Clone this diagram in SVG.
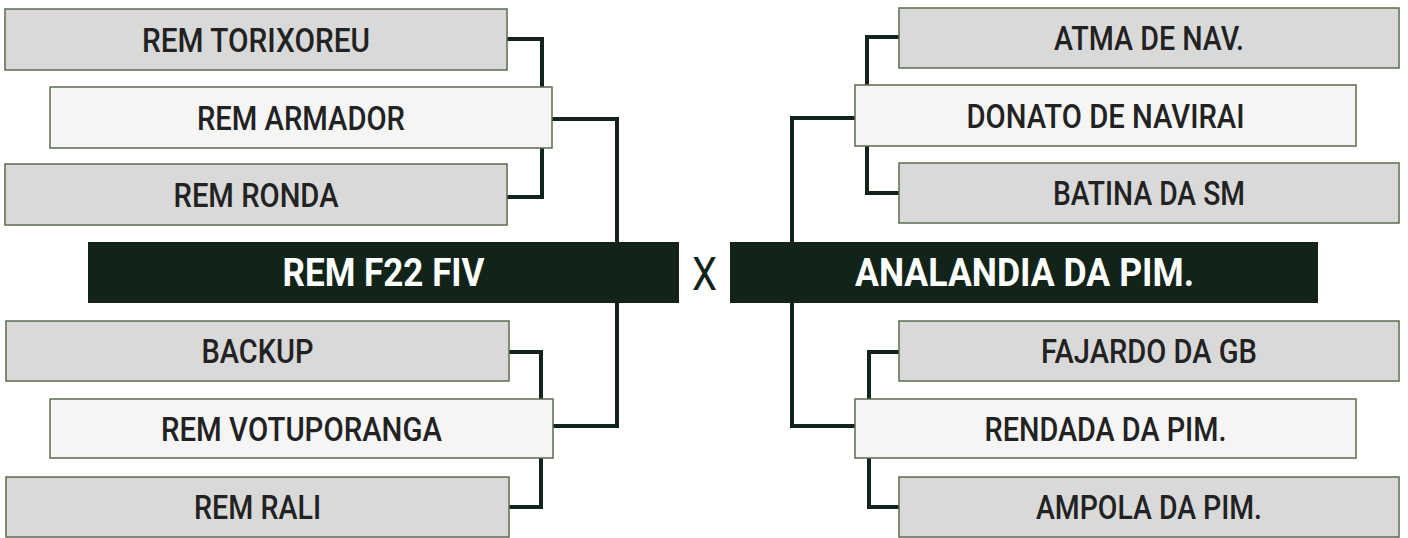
<svg xmlns="http://www.w3.org/2000/svg" width="1408" height="538" viewBox="0 0 1408 538">
<style>
.box{stroke:#5b6b4c;stroke-width:1.5}
.g{fill:#d9d9d9}
.l{fill:#f5f5f5}
.d{fill:#12241a}
.t{font-family:Roboto,"Liberation Sans",sans-serif;font-size:33px;font-weight:500;fill:#222222;text-anchor:middle}
.tb{font-family:Roboto,"Liberation Sans",sans-serif;font-size:38px;font-weight:700;fill:#ffffff;text-anchor:middle}
.x{font-family:Roboto,"Liberation Sans",sans-serif;font-size:47px;font-weight:400;fill:#12241a;text-anchor:middle}
.c{fill:none;stroke:#12241a;stroke-width:4;stroke-linejoin:miter}
</style>
<rect width="1408" height="538" fill="#ffffff"/>
<g id="connectors">
<path class="c" d="M507,39 H542 V197 H507"/>
<path class="c" d="M552,119 H617 V426 H553"/>
<path class="c" d="M509,352 H541 V507 H509"/>
<path class="c" d="M899,37 H867 V193 H899"/>
<path class="c" d="M855,118 H792 V426 H855"/>
<path class="c" d="M899,352 H869 V507 H899"/>
</g>
<g id="n-torixoreu"><rect class="box g" x="5" y="9" width="502" height="61"/><text class="t" x="256" y="51.5" textLength="228" lengthAdjust="spacingAndGlyphs">REM TORIXOREU</text></g>
<g id="n-armador"><rect class="box l" x="50" y="87" width="502" height="61"/><text class="t" x="301" y="129.5" textLength="208" lengthAdjust="spacingAndGlyphs">REM ARMADOR</text></g>
<g id="n-ronda"><rect class="box g" x="5" y="164" width="502" height="61"/><text class="t" x="256" y="206.5" textLength="165" lengthAdjust="spacingAndGlyphs">REM RONDA</text></g>
<g id="n-f22"><rect class="d" x="88" y="242" width="591" height="61"/><text class="tb" x="383.5" y="286" textLength="202" lengthAdjust="spacingAndGlyphs">REM F22 FIV</text></g>
<g id="n-x"><text class="x" x="704.5" y="289.5" textLength="25" lengthAdjust="spacingAndGlyphs">X</text></g>
<g id="n-analandia"><rect class="d" x="730" y="242" width="588" height="61"/><text class="tb" x="1024.5" y="286" textLength="339" lengthAdjust="spacingAndGlyphs">ANALANDIA DA PIM.</text></g>
<g id="n-backup"><rect class="box g" x="6" y="321" width="503" height="60"/><text class="t" x="257.5" y="363" textLength="112" lengthAdjust="spacingAndGlyphs">BACKUP</text></g>
<g id="n-votuporanga"><rect class="box l" x="50" y="399" width="503" height="59"/><text class="t" x="301.5" y="440.5" textLength="281" lengthAdjust="spacingAndGlyphs">REM VOTUPORANGA</text></g>
<g id="n-rali"><rect class="box g" x="6" y="477" width="503" height="60"/><text class="t" x="257.5" y="519" textLength="127" lengthAdjust="spacingAndGlyphs">REM RALI</text></g>
<g id="n-atma"><rect class="box g" x="899" y="8" width="500" height="60"/><text class="t" x="1149" y="50" textLength="190" lengthAdjust="spacingAndGlyphs">ATMA DE NAV.</text></g>
<g id="n-donato"><rect class="box l" x="855" y="85" width="501" height="61"/><text class="t" x="1105.5" y="127.5" textLength="278" lengthAdjust="spacingAndGlyphs">DONATO DE NAVIRAI</text></g>
<g id="n-batina"><rect class="box g" x="899" y="163" width="500" height="60"/><text class="t" x="1149" y="205" textLength="192" lengthAdjust="spacingAndGlyphs">BATINA DA SM</text></g>
<g id="n-fajardo"><rect class="box g" x="899" y="321" width="500" height="60"/><text class="t" x="1149" y="363" textLength="216" lengthAdjust="spacingAndGlyphs">FAJARDO DA GB</text></g>
<g id="n-rendada"><rect class="box l" x="855" y="399" width="501" height="59"/><text class="t" x="1105.5" y="440.5" textLength="242" lengthAdjust="spacingAndGlyphs">RENDADA DA PIM.</text></g>
<g id="n-ampola"><rect class="box g" x="899" y="477" width="500" height="60"/><text class="t" x="1149" y="519" textLength="226" lengthAdjust="spacingAndGlyphs">AMPOLA DA PIM.</text></g>
</svg>
